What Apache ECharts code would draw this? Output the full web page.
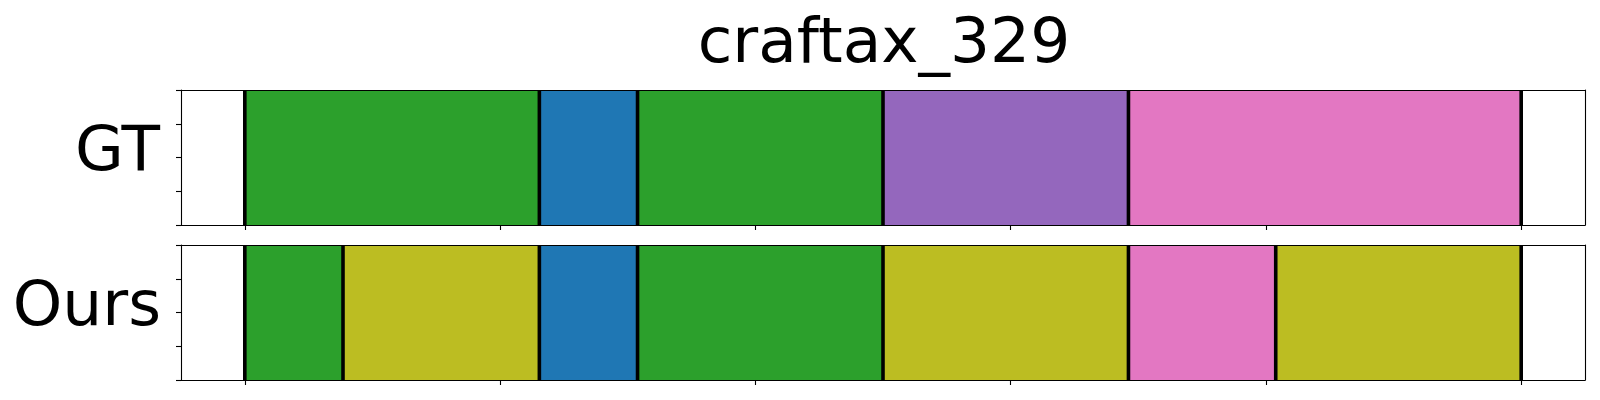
<!DOCTYPE html>
<html>
<head>
<meta charset="utf-8">
<script src="https://cdn.jsdelivr.net/npm/echarts@6/dist/echarts.min.js"></script>
<style>
html,body{margin:0;padding:0;background:#fff;}
#chart{width:1600px;height:400px;}
</style>
</head>
<body>
<div id="chart"></div>
<script>
// ---- data ----
const chartTitle = 'craftax_329';
const rowNames = ['GT', 'Ours'];
const totalLength = 130;
const xTickValues = [0, 26, 52, 78, 104, 130];
const yTickValues = [0, 0.25, 0.5, 0.75, 1];
const gtBounds = [0, 30, 40, 65, 90, 130];
const gtClasses = [2, 0, 2, 4, 6];
const oursBounds = [0, 10, 30, 40, 65, 90, 105, 130];
const oursClasses = [2, 8, 0, 2, 8, 6, 8];
const palette = ['#1f77b4', '#ff7f0e', '#2ca02c', '#d62728', '#9467bd',
                 '#8c564b', '#e377c2', '#7f7f7f', '#bcbd22', '#17becf'];

const FONT = 'DejaVu Sans';
const margin = totalLength * 0.05;

function segData(bounds, classes) {
  const out = [];
  for (let i = 0; i < classes.length; i++) out.push([bounds[i], bounds[i + 1], classes[i]]);
  return out;
}

const grids = [
  { left: 181, width: 1404, top: 90, height: 135 },
  { left: 181, width: 1404, top: 245, height: 135 }
];

const xAxes = [], yAxes = [], series = [];
const allBounds = [gtBounds, oursBounds];
const allClasses = [gtClasses, oursClasses];

for (let g = 0; g < 2; g++) {
  xAxes.push({
    gridIndex: g, type: 'value', position: 'bottom', min: -margin, max: totalLength + margin,
    z: 10,
    axisLine: { show: true, onZero: false, lineStyle: { color: '#000', width: 1.1 } },
    axisTick: { show: true, customValues: xTickValues, length: 5, lineStyle: { color: '#000', width: 1.1 } },
    axisLabel: { show: false, customValues: xTickValues },
    splitLine: { show: false }
  });
  xAxes.push({
    gridIndex: g, type: 'value', position: 'top', min: -margin, max: totalLength + margin,
    z: 10,
    axisLine: { show: true, onZero: false, lineStyle: { color: '#000', width: 1.1 } },
    axisTick: { show: false }, axisLabel: { show: false }, splitLine: { show: false }
  });
  yAxes.push({
    gridIndex: g, type: 'value', position: 'left', min: 0, max: 1, interval: 0.25,
    z: 10,
    axisLine: { show: true, onZero: false, lineStyle: { color: '#000', width: 1.1 } },
    axisTick: { show: true, length: 5, lineStyle: { color: '#000', width: 1.1 } },
    axisLabel: { show: false }, splitLine: { show: false }
  });
  yAxes.push({
    gridIndex: g, type: 'value', position: 'right', min: 0, max: 1,
    z: 10,
    axisLine: { show: true, onZero: false, lineStyle: { color: '#000', width: 1.1 } },
    axisTick: { show: false }, axisLabel: { show: false }, splitLine: { show: false }
  });

  const xi = g * 2, yi = g * 2;
  series.push({
    type: 'custom', xAxisIndex: xi, yAxisIndex: yi, z: 2,
    data: segData(allBounds[g], allClasses[g]),
    renderItem: function (params, api) {
      const p0 = api.coord([api.value(0), 1]);
      const p1 = api.coord([api.value(1), 0]);
      return {
        type: 'rect',
        shape: { x: p0[0], y: p0[1], width: p1[0] - p0[0], height: p1[1] - p0[1] },
        style: { fill: palette[api.value(2)] }
      };
    },
    silent: true
  });
  series.push({
    type: 'custom', xAxisIndex: xi, yAxisIndex: yi, z: 3,
    data: allBounds[g].map(v => [v]),
    renderItem: function (params, api) {
      const a = api.coord([api.value(0), 1]);
      const b = api.coord([api.value(0), 0]);
      return {
        type: 'line',
        shape: { x1: a[0], y1: a[1], x2: b[0], y2: b[1] },
        style: { stroke: '#000', lineWidth: 3.6 }
      };
    },
    silent: true
  });
}

const chart = echarts.init(document.getElementById('chart'), null, { renderer: 'canvas' });
chart.setOption({
  animation: false,
  backgroundColor: '#fff',
  textStyle: { fontFamily: FONT },
  title: [
    { text: chartTitle, left: 879, top: 9, textAlign: 'center',
      textStyle: { fontFamily: FONT, fontSize: 63, fontWeight: 'normal', color: '#000' } },
    { text: rowNames[0], right: 1435, top: 117,
      textStyle: { fontFamily: FONT, fontSize: 63, fontWeight: 'normal', color: '#000' } },
    { text: rowNames[1], right: 1434, top: 272,
      textStyle: { fontFamily: FONT, fontSize: 63, fontWeight: 'normal', color: '#000' } }
  ],
  grid: grids,
  xAxis: xAxes,
  yAxis: yAxes,
  series: series
});
</script>
</body>
</html>
